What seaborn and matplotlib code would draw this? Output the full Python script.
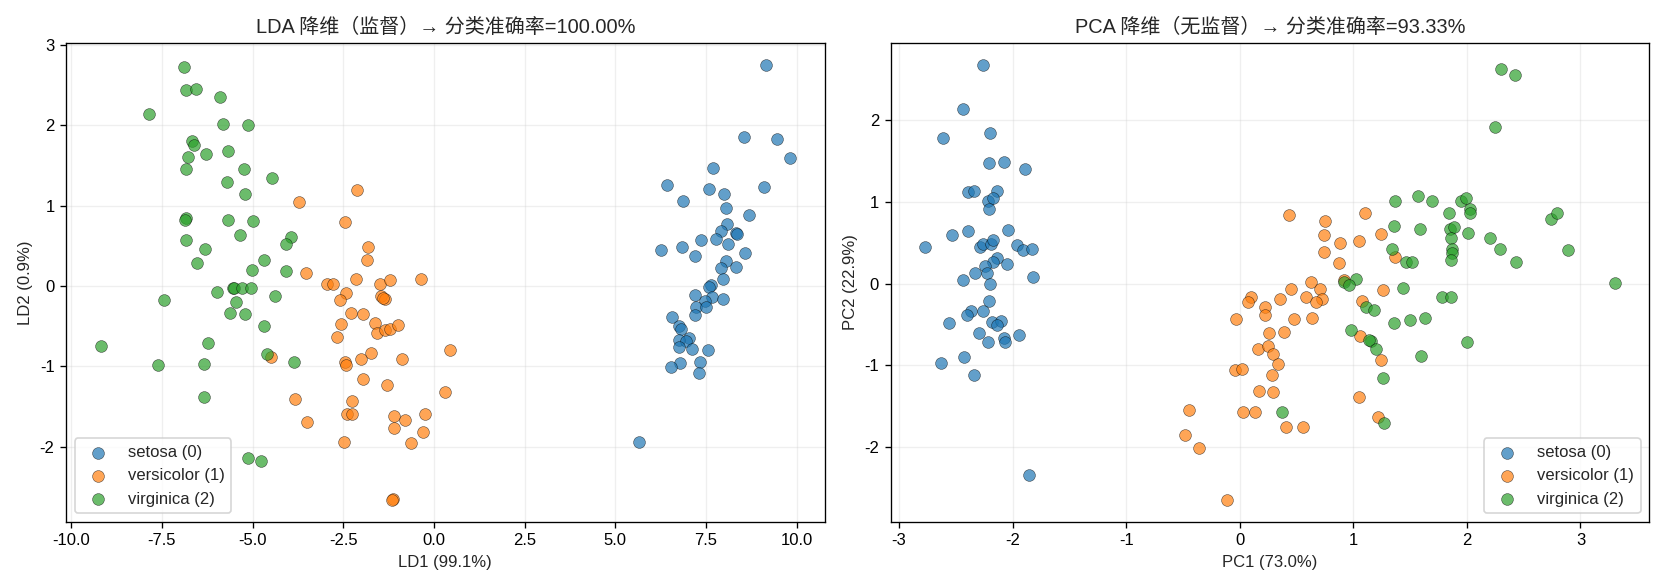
import matplotlib
matplotlib.use("Agg")
import matplotlib.pyplot as plt
import seaborn as sns
import pandas as pd

# ---------------- data ----------------
class_names = ["setosa (0)", "versicolor (1)", "virginica (2)"]
class_colors = ["#1f77b4", "#ff7f0e", "#2ca02c"]

lda_setosa_x = [9.15,8.56,9.45,9.82,7.70,6.42,7.59,7.99,9.11,6.86,8.05,8.68,8.08,7.92,7.77,8.32,8.36,7.36,8.10,6.26,
                6.83,7.21,8.59,8.06,7.92,8.32,7.97,7.64,7.59,7.21,7.67,7.96,7.48,7.24,7.50,7.19,6.56,6.76,6.82,7.04,
                6.77,6.95,6.75,7.12,7.56,6.78,6.54,7.34,7.31,5.66]
lda_setosa_y = [2.75,1.85,1.83,1.59,1.47,1.25,1.21,1.14,1.23,1.06,0.97,0.88,0.77,0.68,0.59,0.66,0.65,0.57,0.52,0.45,
                0.48,0.37,0.41,0.31,0.22,0.24,0.09,0.01,-0.01,-0.11,-0.14,-0.16,-0.19,-0.26,-0.26,-0.36,-0.39,-0.50,-0.54,-0.65,
                -0.67,-0.69,-0.76,-0.78,-0.80,-0.96,-1.01,-0.95,-1.08,-1.94]

lda_versicolor_x = [-2.11,-3.71,-2.46,-1.81,-1.85,-3.52,-2.96,-2.78,-2.15,-1.48,-1.20,-0.37,-2.43,-2.60,-1.47,-1.34,-2.30,-1.96,-2.56,-1.62,
                    -2.67,-1.56,-1.36,-1.20,-1.00,0.43,-4.50,-1.74,-2.02,-0.89,-2.45,-2.42,-1.96,-1.29,0.31,-3.83,-2.26,-2.40,-2.26,-1.10,
                    -0.79,-0.24,-3.50,-1.11,-0.30,-0.62,-2.48,-1.14,-1.17,-1.40]
lda_versicolor_y = [1.20,1.04,0.79,0.48,0.32,0.16,0.03,0.03,0.09,0.03,0.08,0.09,-0.09,-0.18,-0.13,-0.16,-0.34,-0.35,-0.47,-0.46,
                    -0.64,-0.59,-0.55,-0.54,-0.49,-0.80,-0.88,-0.83,-0.91,-0.91,-0.95,-0.98,-1.16,-1.23,-1.32,-1.41,-1.43,-1.59,-1.59,-1.62,
                    -1.66,-1.59,-1.69,-1.76,-1.81,-1.95,-1.94,-2.65,-2.66,-0.15]

lda_virginica_x = [-6.88,-6.85,-6.55,-5.89,-7.87,-5.82,-5.12,-6.66,-6.62,-6.77,-6.28,-5.67,-6.83,-5.24,-4.46,-5.72,-5.20,-6.84,-6.87,-5.67,
                   -4.98,-5.36,-6.83,-6.31,-3.95,-4.09,-6.52,-4.69,-5.02,-4.08,-5.54,-5.50,-5.28,-5.05,-5.97,-7.43,-4.38,-5.45,-5.61,-5.20,
                   -4.68,-9.19,-6.24,-4.61,-7.60,-6.33,-3.85,-6.33,-5.12,-4.77]
lda_virginica_y = [2.72,2.44,2.45,2.35,2.14,2.01,2.00,1.80,1.75,1.60,1.64,1.68,1.46,1.46,1.34,1.29,1.14,0.85,0.82,0.82,
                   0.81,0.64,0.57,0.46,0.61,0.52,0.29,0.32,0.20,0.19,-0.02,-0.02,-0.03,-0.02,-0.08,-0.17,-0.12,-0.20,-0.34,-0.35,
                   -0.50,-0.74,-0.71,-0.85,-0.98,-0.97,-0.94,-1.38,-2.14,-2.17]

pca_setosa_x = [-2.26,-2.44,-2.61,-2.20,-2.21,-2.08,-1.89,-2.39,-2.34,-2.14,-2.22,-2.17,-2.21,-2.53,-2.39,-2.04,-2.77,-2.29,-2.26,-2.19,
                -2.17,-1.96,-1.91,-1.83,-2.14,-2.17,-2.05,-2.24,-2.33,-2.23,-1.82,-2.44,-2.20,-2.21,-2.37,-2.40,-2.26,-2.56,-2.18,-2.10,
                -2.14,-2.30,-2.22,-2.08,-2.07,-1.94,-2.63,-2.43,-2.34,-1.86]
pca_setosa_y = [2.68,2.14,1.79,1.85,1.48,1.49,1.41,1.12,1.13,1.14,1.01,1.05,0.92,0.59,0.65,0.66,0.45,0.45,0.49,0.49,
                0.53,0.47,0.41,0.42,0.31,0.26,0.24,0.22,0.13,0.13,0.08,0.04,0.00,-0.21,-0.34,-0.39,-0.34,-0.48,-0.47,-0.46,
                -0.51,-0.60,-0.72,-0.67,-0.71,-0.63,-0.97,-0.90,-1.12,-2.34]

pca_versicolor_x = [0.43,0.75,1.10,0.74,0.88,1.05,1.24,0.74,0.87,0.63,0.92,0.71,0.45,1.26,0.10,0.07,0.35,0.58,0.72,0.67,
                    0.22,0.22,1.08,-0.03,0.48,0.64,0.26,0.39,1.06,0.16,0.25,0.29,0.34,-0.04,0.02,0.28,1.24,0.17,0.29,1.05,
                    -0.45,0.03,0.13,1.22,0.41,0.56,-0.48,-0.36,-0.11,1.37]
pca_versicolor_y = [0.84,0.77,0.86,0.59,0.50,0.52,0.61,0.39,0.25,0.02,0.04,-0.06,-0.07,-0.08,-0.17,-0.22,-0.19,-0.16,-0.19,-0.23,
                    -0.29,-0.39,-0.21,-0.43,-0.43,-0.42,-0.61,-0.59,-0.64,-0.80,-0.77,-0.86,-0.99,-1.06,-1.04,-1.12,-0.93,-1.31,-1.33,-1.39,
                    -1.55,-1.57,-1.57,-1.63,-1.76,-1.76,-1.86,-2.02,-2.65,0.33]

pca_virginica_x = [1.02,0.92,0.96,1.11,1.18,0.98,1.16,1.14,1.20,1.26,0.37,1.27,2.30,2.42,2.25,1.37,1.57,1.69,1.95,1.99,
                   2.03,2.03,1.84,1.36,1.59,1.85,1.89,1.86,2.01,2.20,1.34,1.87,1.87,1.86,1.46,1.52,2.29,2.43,2.74,2.79,
                   2.89,3.30,1.44,1.78,1.86,1.36,1.50,1.63,2.00,1.60]
pca_virginica_y = [0.06,0.02,-0.02,-0.29,-0.32,-0.57,-0.70,-0.69,-0.80,-1.16,-1.57,-1.71,2.63,2.56,1.92,1.01,1.07,1.01,1.01,1.05,
                   0.91,0.87,0.87,0.70,0.67,0.67,0.69,0.56,0.62,0.56,0.42,0.42,0.38,0.29,0.26,0.27,0.42,0.27,0.79,0.86,
                   0.41,0.01,-0.05,-0.17,-0.16,-0.48,-0.45,-0.42,-0.71,-0.89]

lda_title = "LDA 降维（监督）→ 分类准确率=100.00%"
pca_title = "PCA 降维（无监督）→ 分类准确率=93.33%"
lda_xlabel, lda_ylabel = "LD1 (99.1%)", "LD2 (0.9%)"
pca_xlabel, pca_ylabel = "PC1 (73.0%)", "PC2 (22.9%)"

# ---------------- plotting ----------------
sns.set_style("white")
plt.rcParams["font.family"] = ["Liberation Sans", "Noto Sans CJK SC", "DejaVu Sans"]
plt.rcParams["axes.unicode_minus"] = False
plt.rcParams["axes.edgecolor"] = "black"
plt.rcParams["xtick.bottom"] = True
plt.rcParams["ytick.left"] = True

fig, axes = plt.subplots(1, 2, figsize=(1667 / 120, 588 / 120), dpi=120)

lda_sets = [(lda_setosa_x, lda_setosa_y), (lda_versicolor_x, lda_versicolor_y), (lda_virginica_x, lda_virginica_y)]
pca_sets = [(pca_setosa_x, pca_setosa_y), (pca_versicolor_x, pca_versicolor_y), (pca_virginica_x, pca_virginica_y)]

for ax, sets, title, xl, yl, loc in [
    (axes[0], lda_sets, lda_title, lda_xlabel, lda_ylabel, "lower left"),
    (axes[1], pca_sets, pca_title, pca_xlabel, pca_ylabel, "lower right"),
]:
    for (xs, ys), name, col in zip(sets, class_names, class_colors):
        df = pd.DataFrame({"x": xs, "y": ys})
        sns.scatterplot(data=df, x="x", y="y", ax=ax, color=col, s=50, alpha=0.7,
                        edgecolor="black", linewidth=0.3, label=name)
    ax.set_title(title, fontsize=12)
    ax.set_xlabel(xl, fontsize=10)
    ax.set_ylabel(yl, fontsize=10)
    ax.grid(True, alpha=0.3)
    ax.tick_params(labelsize=10, length=3.5, width=0.8, colors="black")
    for sp in ax.spines.values():
        sp.set_color("black")
        sp.set_linewidth(0.8)
    ax.legend(loc=loc, fontsize=10, frameon=True)

plt.tight_layout()
fig.savefig("out.png", dpi=120)
